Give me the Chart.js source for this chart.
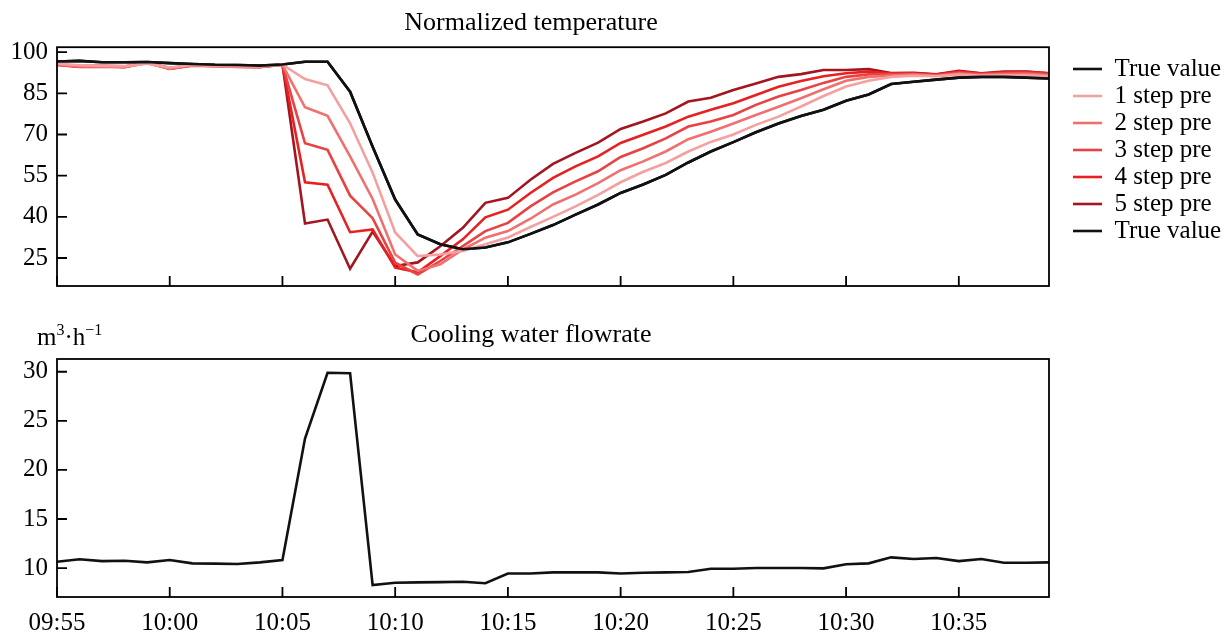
<!DOCTYPE html>
<html>
<head>
<meta charset="utf-8">
<title>Normalized temperature / Cooling water flowrate</title>
<script src="https://cdn.jsdelivr.net/npm/chart.js@4.4.1/dist/chart.umd.min.js"></script>
<style>
  body { margin: 0; background: #fff; }
  #boxTemp { position: absolute; left: 0; top: 0; width: 1224px; height: 300px; }
  #boxFlow { position: absolute; left: 0; top: 300px; width: 1224px; height: 335px; }
</style>
</head>
<body>
<div id="boxTemp"><canvas id="graficoTemp"></canvas></div>
<div id="boxFlow"><canvas id="graficoFlow"></canvas></div>
<script>
// ---------- dados ----------
const minutos = [
  "09:55", "09:56", "09:57", "09:58", "09:59",
  "10:00", "10:01", "10:02", "10:03", "10:04",
  "10:05", "10:06", "10:07", "10:08", "10:09",
  "10:10", "10:11", "10:12", "10:13", "10:14",
  "10:15", "10:16", "10:17", "10:18", "10:19",
  "10:20", "10:21", "10:22", "10:23", "10:24",
  "10:25", "10:26", "10:27", "10:28", "10:29",
  "10:30", "10:31", "10:32", "10:33", "10:34",
  "10:35", "10:36", "10:37", "10:38", "10:39"
];

const trueValue = [
  96.6, 96.8, 96.3, 96.3, 96.4, 96.0, 95.7, 95.4, 95.3, 95.1,
  95.5, 96.5, 96.5, 85.6, 65.5, 46.3, 33.6, 30.0, 28.2, 28.8,
  30.7, 33.8, 37.0, 40.8, 44.5, 48.7, 51.8, 55.3, 59.8, 63.8,
  67.2, 70.8, 74.0, 76.7, 79.0, 82.3, 84.6, 88.4, 89.2, 90.0,
  90.7, 91.0, 91.0, 90.7, 90.4
];

const step1 = [
  95.8, 95.2, 95.0, 94.9, 95.8, 94.4, 95.3, 95.0, 94.9, 94.8,
  95.4, 90.2, 87.9, 74.1, 56.1, 34.3, 25.7, 26.3, 27.6, 30.0,
  32.5, 36.3, 40.0, 43.8, 48.0, 52.6, 56.4, 59.6, 63.8, 67.3,
  70.0, 73.5, 76.5, 80.2, 84.0, 87.5, 89.6, 91.0, 91.4, 91.2,
  91.8, 91.5, 91.6, 91.6, 91.2
];

const step2 = [
  95.5, 94.8, 94.9, 94.6, 96.0, 94.0, 95.2, 94.9, 94.7, 94.6,
  95.4, 79.9, 76.8, 62.0, 46.5, 26.3, 20.3, 22.7, 28.1, 32.4,
  34.8, 39.3, 44.5, 48.1, 52.3, 57.0, 60.2, 63.8, 68.3, 71.0,
  74.0, 77.1, 80.1, 83.2, 86.5, 89.6, 91.0, 91.5, 91.8, 91.4,
  92.2, 91.7, 92.0, 92.1, 91.6
];

const step3 = [
  95.3, 94.6, 94.7, 94.5, 96.1, 93.9, 95.1, 94.9, 94.6, 94.5,
  95.4, 66.8, 64.4, 47.7, 39.5, 23.3, 19.0, 23.9, 29.3, 34.8,
  37.8, 43.8, 48.9, 52.9, 56.6, 61.8, 65.0, 68.6, 72.9, 74.7,
  77.1, 80.8, 83.8, 86.2, 88.8, 91.0, 91.9, 92.0, 92.0, 91.6,
  92.6, 92.0, 92.4, 92.5, 92.0
];

const step4 = [
  95.4, 94.7, 94.8, 94.6, 96.2, 94.0, 95.2, 95.0, 94.7, 94.6,
  95.4, 52.6, 51.7, 34.4, 35.4, 21.5, 19.8, 25.7, 31.8, 39.8,
  42.6, 48.7, 54.2, 58.4, 62.0, 66.9, 69.9, 72.9, 76.5, 79.0,
  81.4, 84.4, 87.4, 89.5, 91.2, 92.3, 92.9, 92.2, 92.3, 91.8,
  92.9, 92.2, 92.7, 92.8, 92.3
];

const step5 = [
  95.6, 94.9, 95.0, 94.8, 96.2, 94.2, 95.3, 95.1, 94.8, 94.7,
  95.5, 37.6, 39.0, 21.1, 34.6, 22.1, 23.4, 29.3, 36.0, 45.1,
  46.9, 53.5, 59.3, 63.3, 67.0, 72.0, 74.7, 77.7, 82.0, 83.4,
  86.2, 88.6, 91.0, 92.0, 93.5, 93.5, 93.8, 92.4, 92.5, 91.9,
  93.2, 92.3, 92.9, 92.9, 92.3
];

const flowrate = [
  10.64, 10.89, 10.71, 10.74, 10.58, 10.82, 10.48, 10.45, 10.41, 10.58,
  10.82, 23.2, 29.9, 29.85, 8.27, 8.5, 8.54, 8.57, 8.6, 8.45,
  9.45, 9.45, 9.56, 9.56, 9.56, 9.45, 9.52, 9.56, 9.59, 9.93,
  9.93, 10.0, 10.0, 10.0, 9.97, 10.38, 10.48, 11.09, 10.92, 11.02,
  10.71, 10.92, 10.54, 10.54, 10.58
];

const tempTicks = [25, 40, 55, 70, 85, 100];
const flowTicks = [10, 15, 20, 25, 30];

document.addEventListener("DOMContentLoaded", () => {
  Chart.defaults.font.family = "'Liberation Serif', 'Times New Roman', serif";
  Chart.defaults.font.size = 25;
  Chart.defaults.color = "#000";

  // moldura + ticks para dentro, como na figura original
  const moldura = {
    id: "moldura",
    afterLayout(chart) {
      // o título fica um pouco à esquerda do centro do gráfico
      const t = chart.titleBlock;
      if (t) { t.left -= 22; t.right -= 22; }
    },
    afterDraw(chart) {
      const { ctx, chartArea: a, scales } = chart;
      ctx.save();
      ctx.strokeStyle = "#000";
      ctx.lineWidth = 1.8;
      ctx.strokeRect(a.left, a.top, a.right - a.left, a.bottom - a.top);
      ctx.beginPath();
      scales.x.ticks.forEach((tk, i) => {
        if (i % 5 !== 0) return;
        const px = scales.x.getPixelForTick(i);
        ctx.moveTo(px, a.bottom);
        ctx.lineTo(px, a.bottom - 10);
      });
      scales.y.ticks.forEach(tk => {
        const py = scales.y.getPixelForValue(tk.value);
        ctx.moveTo(a.left, py);
        ctx.lineTo(a.left + 10, py);
      });
      ctx.stroke();
      ctx.restore();
    }
  };

  function eixoX(mostrar, altura) {
    return {
      type: "category",
      grid: { display: false, drawTicks: false },
      border: { display: false },
      ticks: {
        display: mostrar,
        autoSkip: false,
        maxRotation: 0,
        padding: 11,
        callback: (v, i) => (i % 5 === 0 ? minutos[i] : "")
      },
      afterFit(s) { s.height = altura; }
    };
  }

  function eixoY(min, max, valores) {
    return {
      min: min,
      max: max,
      grid: { display: false, drawTicks: false },
      border: { display: false },
      ticks: { padding: 9 },
      afterBuildTicks(s) { s.ticks = valores.map(v => ({ value: v })); },
      afterFit(s) {
        s.width = 57;
        // sem folga extra para os rótulos das pontas
        s.paddingTop = 0;
        s.paddingBottom = 0;
      }
    };
  }

  function linha(label, data, cor) {
    return {
      label: label,
      data: data,
      borderColor: cor,
      backgroundColor: cor,
      borderWidth: 2.6,
      pointRadius: 0,
      tension: 0
    };
  }

  // ---------- Temperatura normalizada ----------
  new Chart(document.getElementById("graficoTemp"), {
    type: "line",
    data: {
      labels: minutos,
      datasets: [
        linha("True value", trueValue, "#111111"),
        linha("1 step pre", step1, "#F5A0A0"),
        linha("2 step pre", step2, "#F07070"),
        linha("3 step pre", step3, "#E84242"),
        linha("4 step pre", step4, "#E82020"),
        linha("5 step pre", step5, "#A3161F"),
        linha("True value", trueValue, "#111111")
      ]
    },
    options: {
      responsive: true,
      maintainAspectRatio: false,
      animation: false,
      layout: { padding: 0 },
      scales: {
        x: eixoX(false, 14),
        y: eixoY(14.8, 101.8, tempTicks),
        // só reserva o espaço entre o gráfico e a legenda
        folga: {
          position: "right",
          grid: { display: false, drawTicks: false },
          border: { display: false },
          ticks: { display: false },
          afterFit(s) { s.width = 22; }
        }
      },
      plugins: {
        title: {
          display: true,
          text: "Normalized temperature",
          fullSize: false,
          font: { size: 26, weight: "normal" },
          padding: { top: 8, bottom: 8 }
        },
        legend: {
          position: "right",
          align: "center",
          maxWidth: 153,
          labels: {
            usePointStyle: true,
            pointStyle: "line",
            pointStyleWidth: 29,
            padding: 2,
            font: { size: 25 }
          }
        },
        tooltip: { enabled: false }
      }
    },
    plugins: [moldura]
  });

  // ---------- Vazão de água de resfriamento ----------
  const unidade = {
    id: "unidade",
    afterDraw(chart) {
      const ctx = chart.ctx;
      const fam = "'Liberation Serif', 'Times New Roman', serif";
      let x = 37;
      const y = 45;
      ctx.save();
      ctx.fillStyle = "#000";
      ctx.textBaseline = "alphabetic";
      ctx.font = "25px " + fam;
      ctx.fillText("m", x, y);
      x += ctx.measureText("m").width;
      ctx.font = "16px " + fam;
      ctx.fillText("3", x, y - 10);
      x += ctx.measureText("3").width;
      ctx.font = "25px " + fam;
      ctx.fillText("\u00B7h", x, y);
      x += ctx.measureText("\u00B7h").width;
      ctx.font = "16px " + fam;
      ctx.fillText("\u22121", x, y - 10);
      ctx.restore();
    }
  };

  new Chart(document.getElementById("graficoFlow"), {
    type: "line",
    data: {
      labels: minutos,
      datasets: [linha("Cooling water flowrate", flowrate, "#111111")]
    },
    options: {
      responsive: true,
      maintainAspectRatio: false,
      animation: false,
      layout: { padding: { right: 175 } },
      scales: {
        x: eixoX(true, 38),
        y: eixoY(7.05, 31.3, flowTicks)
      },
      plugins: {
        title: {
          display: true,
          text: "Cooling water flowrate",
          fullSize: false,
          font: { size: 26, weight: "normal" },
          padding: { top: 19.4, bottom: 8.4 }
        },
        legend: { display: false },
        tooltip: { enabled: false }
      }
    },
    plugins: [moldura, unidade]
  });
});
</script>
</body>
</html>
